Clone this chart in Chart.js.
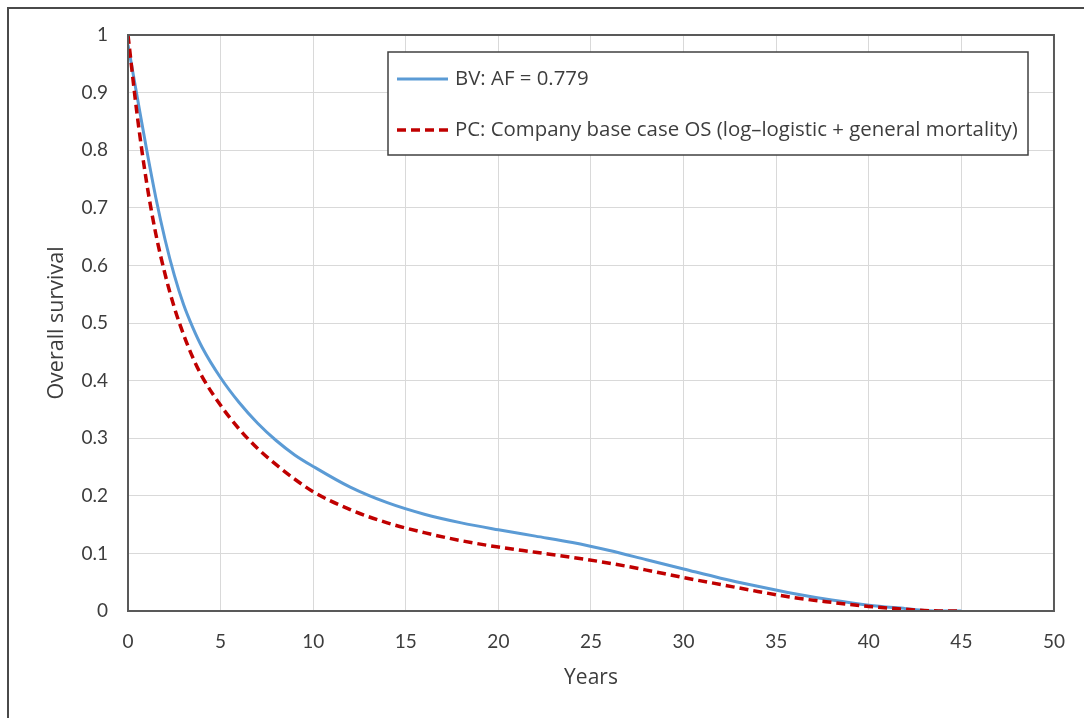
<!DOCTYPE html>
<html>
<head>
<meta charset="utf-8">
<script src="https://cdn.jsdelivr.net/npm/chart.js@4.4.1/dist/chart.umd.min.js"></script>
<style>
  html, body { margin: 0; padding: 0; background: #fff; }
  #wrap { position: relative; width: 1084px; height: 718px; }
  #frame { position: absolute; left: 7px; top: 7px; width: 1100px; height: 800px;
           border-left: 2px solid #4a4a4a; border-top: 2px solid #4a4a4a; pointer-events: none; }
  canvas { position: absolute; left: 0; top: 0; }
</style>
</head>
<body>
<div id="wrap">
  <canvas id="c" width="1084" height="718"></canvas>
  <div id="frame"></div>
</div>
<script>
// ---- data ----
const seriesLabels = ["BV: AF = 0.779", "PC: Company base case OS (log\u2013logistic + general mortality)"];
const bvYears = [0, 0.5, 1, 1.5, 2, 2.5, 3, 3.5, 4, 5, 6, 7, 8, 9, 10, 12, 14, 16, 18, 20, 22, 24, 26, 28, 30, 32, 34, 36, 38, 40, 42, 43, 44, 45];
const bvOS =    [0.983, 0.892, 0.802, 0.718, 0.645, 0.583, 0.532, 0.492, 0.458, 0.405, 0.362, 0.326, 0.296, 0.271, 0.251, 0.215, 0.188, 0.168, 0.153, 0.141, 0.130, 0.119, 0.105, 0.089, 0.073, 0.057, 0.043, 0.030, 0.019, 0.010, 0.004, 0.001, 0.0, 0.0];
const pcYears = [0, 0.5, 1, 1.5, 2, 2.5, 3, 3.5, 4, 5, 6, 7, 8, 9, 10, 12, 14, 16, 18, 20, 22, 24, 26, 28, 30, 32, 34, 36, 38, 40, 42, 43, 44, 45];
const pcOS =    [1.0, 0.86, 0.745, 0.655, 0.585, 0.527, 0.48, 0.44, 0.407, 0.357, 0.316, 0.282, 0.254, 0.229, 0.207, 0.176, 0.153, 0.136, 0.122, 0.111, 0.102, 0.093, 0.083, 0.071, 0.058, 0.046, 0.034, 0.023, 0.015, 0.008, 0.003, 0.001, 0.0, 0.0];
const xTicks = [0, 5, 10, 15, 20, 25, 30, 35, 40, 45, 50];
const yTicks = [0, 0.1, 0.2, 0.3, 0.4, 0.5, 0.6, 0.7, 0.8, 0.9, 1];
const xTitle = "Years";
const yTitle = "Overall survival";

const TICKFONT = "Lato, 'Noto Sans', sans-serif";
const FONT = "'Open Sans', 'Noto Sans', sans-serif";
const TEXT = "#3d3d3d";
const BLUE = "#5B9BD5";
const RED = "#C00000";

const toXY = (xs, ys) => xs.map((x, i) => ({ x: x, y: ys[i] }));

const boxPlugin = {
  id: 'boxAndLegend',
  afterDatasetsDraw(chart) {
    const { ctx, chartArea: a } = chart;
    ctx.save();
    ctx.strokeStyle = '#595959';
    ctx.lineWidth = 2;
    ctx.strokeRect(a.left, a.top, a.right - a.left, a.bottom - a.top);
    ctx.restore();
  },
  afterDraw(chart) {
    const { ctx } = chart;
    const bx = 388, by = 52, bw = 640, bh = 103;
    ctx.save();
    ctx.fillStyle = '#fff';
    ctx.fillRect(bx, by, bw, bh);
    ctx.strokeStyle = '#404040';
    ctx.lineWidth = 1.5;
    ctx.strokeRect(bx, by, bw, bh);
    const ds = chart.data.datasets;
    const rows = [79, 130];
    ds.forEach((d, i) => {
      const y = rows[i];
      ctx.beginPath();
      ctx.strokeStyle = d.borderColor;
      ctx.lineWidth = d.borderWidth;
      ctx.setLineDash(d.borderDash || []);
      ctx.moveTo(397, y);
      ctx.lineTo(448, y);
      ctx.stroke();
      ctx.setLineDash([]);
      ctx.fillStyle = TEXT;
      ctx.font = "20.4px " + FONT;
      ctx.textBaseline = 'middle';
      ctx.textAlign = 'left';
      ctx.fillText(d.label, 455, y);
    });
    ctx.restore();
  }
};

new Chart(document.getElementById('c'), {
  type: 'line',
  data: {
    datasets: [
      { label: seriesLabels[0], data: toXY(bvYears, bvOS), borderColor: BLUE, borderWidth: 3,
        pointRadius: 0, cubicInterpolationMode: 'monotone', fill: false, order: 2 },
      { label: seriesLabels[1], data: toXY(pcYears, pcOS), borderColor: RED, borderWidth: 3.5,
        borderDash: [9, 5], pointRadius: 0, cubicInterpolationMode: 'monotone', fill: false, order: 1 }
    ]
  },
  options: {
    responsive: false,
    animation: false,
    layout: { padding: { left: 0, right: 29, top: 35, bottom: 0 } },
    plugins: { legend: { display: false }, tooltip: { enabled: false } },
    scales: {
      x: {
        type: 'linear', min: 0, max: 50,
        afterBuildTicks: (s) => { s.ticks = xTicks.map(v => ({ value: v })); },
        afterFit: (s) => { s.height = 107; },
        grid: { color: '#d9d9d9', lineWidth: 1, drawTicks: false },
        border: { display: false },
        ticks: { color: TEXT, font: { family: TICKFONT, size: 19 }, padding: 19, maxRotation: 0 },
        title: { display: true, text: xTitle, color: TEXT, font: { family: FONT, size: 21 }, padding: { bottom: 27 } }
      },
      y: {
        type: 'linear', min: 0, max: 1,
        afterBuildTicks: (s) => { s.ticks = yTicks.map(v => ({ value: v })); },
        afterFit: (s) => { s.width = 128; },
        grid: { color: '#d9d9d9', lineWidth: 1, drawTicks: false },
        border: { display: false },
        ticks: { color: TEXT, font: { family: TICKFONT, size: 19 }, padding: 20,
                 callback: (v) => String(v) },
        title: { display: true, text: yTitle, color: TEXT, font: { family: FONT, size: 21.5 }, padding: { top: 44 } }
      }
    }
  },
  plugins: [boxPlugin]
});
</script>
</body>
</html>
